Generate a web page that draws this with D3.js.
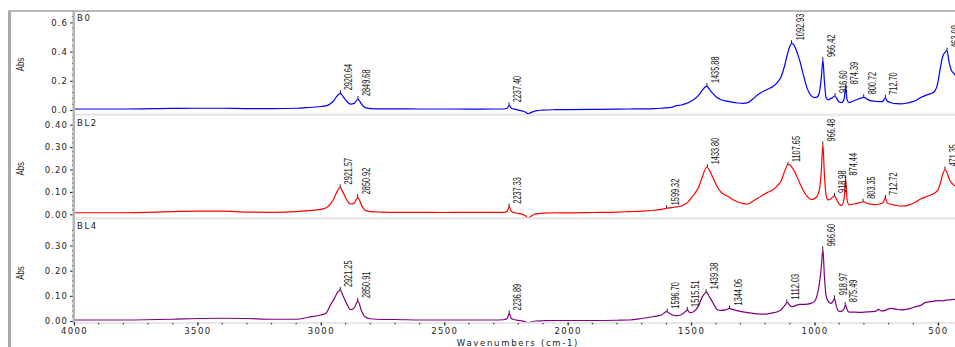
<!DOCTYPE html>
<html>
<head>
<meta charset="utf-8">
<script src="https://cdn.jsdelivr.net/npm/d3@7"></script>
<style>
  html, body { margin: 0; padding: 0; background: #fff; }
  svg { display: block; }
</style>
</head>
<body>
<svg id="chart" width="955" height="347"></svg>
<script>
// Wavenumber grid (cm-1), shared by the three spectra
const wavenumbers = [
  4000, 3800, 3600, 3500, 3400, 3300, 3200, 3100, 3050, 3000,
  2980, 2960, 2945, 2935, 2921, 2910, 2895, 2880, 2865, 2850,
  2835, 2820, 2800, 2750, 2700, 2600, 2500, 2400, 2300, 2260,
  2245, 2237, 2228, 2210, 2190, 2170, 2160, 2150, 2130, 2100,
  2050, 2000, 1900, 1800, 1750, 1700, 1650, 1620, 1600, 1580,
  1560, 1540, 1520, 1515, 1505, 1490, 1470, 1455, 1437, 1425,
  1410, 1395, 1380, 1360, 1345, 1330, 1310, 1290, 1270, 1250,
  1230, 1210, 1190, 1170, 1150, 1135, 1120, 1110, 1100, 1093,
  1085, 1075, 1060, 1045, 1030, 1015, 1000, 990, 980, 972,
  966, 960, 953, 945, 935, 925, 919, 912, 900, 890,
  880, 874, 868, 860, 845, 830, 815, 800, 785, 770,
  755, 740, 730, 722, 713, 705, 690, 670, 650, 630,
  610, 590, 570, 550, 530, 515, 500, 490, 480, 471,
  463, 455, 445, 435, 420, 400
];

// Absorbance of sample B0
const absB0 = [
  .007, .007, .011, .012, .012, .010, .010, .012, .017, .024,
  .028, .045, .070, .095, .114, .092, .060, .040, .045, .075,
  .040, .016, .010, .008, .008, .007, .007, .006, .007, .007,
  .012, .032, .012, .004, -.004, -.015, -.027, -.018, -.006, -.001,
  .002, .003, .004, .006, .007, .008, .010, .012, .015, .018,
  .030, .034, .045, .048, .056, .070, .100, .135, .164, .140,
  .110, .085, .072, .062, .057, .052, .048, .046, .050, .075,
  .105, .125, .142, .160, .190, .230, .310, .380, .435, .457,
  .450, .415, .340, .240, .150, .100, .085, .088, .120, .230,
  .342, .200, .085, .070, .078, .088, .096, .085, .055, .050,
  .075, .155, .070, .050, .060, .070, .080, .087, .072, .062,
  .060, .058, .057, .062, .084, .060, .050, .043, .042, .046,
  .054, .065, .085, .100, .112, .125, .190, .290, .370, .395,
  .406, .330, .270, .250, .220, .200
];

// Absorbance of sample BL2
const absBL2 = [
  .007, .007, .012, .014, .014, .010, .009, .012, .016, .022,
  .028, .048, .075, .100, .120, .098, .065, .046, .050, .076,
  .040, .018, .012, .010, .009, .009, .008, .009, .009, .009,
  .014, .034, .013, .006, .002, -.008, -.018, -.010, .002, .005,
  .007, .006, .008, .010, .012, .014, .018, .022, .027, .030,
  .033, .036, .048, .052, .065, .085, .120, .165, .210, .195,
  .160, .125, .100, .085, .076, .065, .055, .048, .046, .058,
  .072, .085, .098, .108, .128, .150, .195, .220, .222, .212,
  .200, .178, .140, .105, .080, .066, .070, .080, .110, .200,
  .312, .180, .085, .064, .068, .078, .082, .070, .045, .040,
  .070, .160, .065, .042, .045, .048, .052, .056, .048, .045,
  .043, .045, .048, .052, .073, .050, .045, .040, .037, .038,
  .045, .055, .068, .078, .086, .094, .108, .140, .180, .200,
  .185, .160, .140, .130, .120, .110
];

// Absorbance of sample BL4
const absBL4 = [
  .004, .004, .007, .010, .011, .010, .007, .007, .015, .024,
  .030, .065, .090, .110, .123, .100, .068, .045, .052, .079,
  .040, .016, .009, .006, .006, .004, .004, .004, .004, .005,
  .010, .030, .010, .004, .001, -.004, -.009, -.005, .000, .001,
  .002, .002, .002, .003, .004, .010, .018, .024, .037, .026,
  .021, .025, .040, .044, .033, .037, .060, .095, .114, .095,
  .070, .046, .042, .044, .050, .045, .040, .036, .033, .030,
  .028, .027, .028, .032, .037, .045, .062, .074, .062, .057,
  .058, .062, .066, .066, .067, .070, .078, .100, .150, .220,
  .285, .180, .100, .080, .070, .078, .090, .060, .038, .038,
  .050, .063, .045, .035, .035, .035, .034, .035, .036, .037,
  .038, .046, .040, .040, .042, .046, .050, .047, .044, .046,
  .050, .057, .062, .074, .077, .079, .081, .081, .080, .082,
  .083, .084, .085, .086, .086, .087
];

// Peak picks (wavenumber labels) for each sample
const peaksB0  = ["2920.64", "2849.68", "2237.40", "1435.88", "1092.93", "966.42", "916.60", "874.39", "800.72", "712.70", "463.09"];
const peaksBL2 = ["2921.57", "2850.92", "2237.33", "1599.32", "1433.80", "1107.65", "966.48", "918.98", "874.44", "803.35", "712.72", "471.35"];
const peaksBL4 = ["2921.25", "2850.91", "2236.89", "1596.70", "1515.51", "1439.38", "1344.06", "1112.03", "966.60", "918.97", "875.49"];

// Axis ticks
const xTicks = [4000, 3500, 3000, 2500, 2000, 1500, 1000, 500];
const yTicksB0  = [0.0, 0.2, 0.4, 0.6];
const yTicksBL2 = [0.00, 0.10, 0.20, 0.30, 0.40];
const yTicksBL4 = [0.00, 0.10, 0.20, 0.30];

const sampleNames = ["B0", "BL2", "BL4"];
const sampleColors = ["#0000ff", "#ff0000", "#800080"];

const svg = d3.select("#chart");
const W = 955, H = 347;

const x = d3.scaleLinear().domain([4000, 400]).range([74, 962.6]);

const panels = [
  { name: sampleNames[0], values: absB0,  peaks: peaksB0,  color: sampleColors[0],
    top: 11, bottom: 114, y: d3.scaleLinear().domain([0, 0.6]).range([110, 22.4]),
    ticks: yTicksB0, fmt: d3.format(".1f"), minor: 0.04, minorMax: 0.66 },
  { name: sampleNames[1], values: absBL2, peaks: peaksBL2, color: sampleColors[1],
    top: 116, bottom: 217.5, y: d3.scaleLinear().domain([0, 0.4]).range([214.3, 124.7]),
    ticks: yTicksBL2, fmt: d3.format(".2f"), minor: 0.02, minorMax: 0.42 },
  { name: sampleNames[2], values: absBL4, peaks: peaksBL4, color: sampleColors[2],
    top: 219.5, bottom: 322.5, y: d3.scaleLinear().domain([0, 0.3]).range([321, 245.5]),
    ticks: yTicksBL4, fmt: d3.format(".2f"), minor: 0.02, minorMax: 0.38 }
];

const tickFont = "DejaVu Sans, Verdana, sans-serif";
const narrowFont = "Liberation Sans, Arial, sans-serif";

// Outer frame: left bar and top rule
svg.append("rect").attr("x", 8).attr("y", 10).attr("width", 3).attr("height", H - 10).attr("fill", "#a9a9a9");
svg.append("rect").attr("x", 8).attr("y", 10).attr("width", W - 8).attr("height", 2).attr("fill", "#b8b8b8");

// Separators between the stacked panels
svg.append("rect").attr("x", 74).attr("y", 113.5).attr("width", W).attr("height", 2.5).attr("fill", "#e9e9e9");
svg.append("rect").attr("x", 74).attr("y", 217).attr("width", W).attr("height", 2.5).attr("fill", "#e9e9e9");

const defs = svg.append("defs");

panels.forEach((p, i) => {
  const data = wavenumbers.map((w, k) => [w, p.values[k]]);

  defs.append("clipPath").attr("id", "clip" + i)
    .append("rect").attr("x", 75).attr("y", p.top).attr("width", W).attr("height", p.bottom - p.top);

  const g = svg.append("g");

  // Spectrum trace
  const line = d3.line()
    .x(d => x(d[0]))
    .y(d => p.y(d[1]))
    .curve(d3.curveMonotoneX);

  g.append("path")
    .datum(data)
    .attr("clip-path", "url(#clip" + i + ")")
    .attr("fill", "none")
    .attr("stroke", p.color)
    .attr("stroke-width", 1.2)
    .attr("stroke-linejoin", "round")
    .attr("d", line);

  // Y axis ticks and labels
  const yAxis = d3.axisLeft(p.y).tickValues(p.ticks).tickFormat(p.fmt).tickSize(3).tickPadding(2);
  const ax = g.append("g").attr("transform", "translate(73,0)").call(yAxis);
  ax.select(".domain").remove();
  ax.selectAll(".tick line").attr("stroke", "#222");
  ax.selectAll(".tick text")
    .attr("font-family", tickFont)
    .attr("font-size", "8.5px")
    .attr("letter-spacing", "1.1px")
    .attr("fill", "#222");

  // Minor ticks on the y axis
  const minors = d3.range(0, p.minorMax, p.minor).filter(v => !p.ticks.some(t => Math.abs(t - v) < 1e-6));
  g.selectAll(".ym").data(minors).join("rect")
    .attr("x", 72).attr("y", v => p.y(v) - 0.5)
    .attr("width", 1.5).attr("height", 1.2)
    .attr("fill", "#333");

  // Sample name
  g.append("text")
    .attr("x", 77).attr("y", p.top + 9.5)
    .attr("font-family", tickFont)
    .attr("font-size", "8.5px")
    .attr("letter-spacing", "1.6px")
    .attr("fill", "#222")
    .text(p.name);

  // Y axis title
  const midY = (p.top + p.bottom) / 2 + 2;
  g.append("text")
    .attr("transform", `translate(24,${midY}) rotate(-90) scale(0.72,1)`)
    .attr("text-anchor", "middle")
    .attr("font-family", narrowFont)
    .attr("font-size", "11px")
    .attr("fill", "#222")
    .text("Abs");

  // Peak picks: tick at the peak top and a vertical label
  const peakTop = w => {
    let best = -Infinity;
    wavenumbers.forEach((gw, k) => {
      if (Math.abs(gw - w) <= 4.5 && p.values[k] > best) best = p.values[k];
    });
    return best;
  };
  p.peaks.forEach(lbl => {
    const w = +lbl;
    const px = x(w), py = p.y(peakTop(w));
    g.append("line")
      .attr("x1", px).attr("x2", px).attr("y1", py - 3).attr("y2", py)
      .attr("stroke", "#222").attr("stroke-width", 1);
    g.append("text")
      .attr("transform", `translate(${px + 12},${py - 3}) rotate(-90) scale(0.7,1)`)
      .attr("font-family", narrowFont)
      .attr("font-size", "10.5px")
      .attr("fill", "#111")
      .text(lbl);
  });
});

// Vertical axis rule shared by all panels
svg.append("rect").attr("x", 72.5).attr("y", 11).attr("width", 2.5).attr("height", 312).attr("fill", "#b4b4b4");

// X axis
svg.append("line").attr("x1", 74).attr("x2", W).attr("y1", 323).attr("y2", 323).attr("stroke", "#cfcfcf").attr("stroke-width", 1);
const xAxis = d3.axisBottom(x).tickValues(xTicks).tickFormat(d3.format("d")).tickSize(3).tickPadding(2);
const xa = svg.append("g").attr("transform", "translate(0,322.5)").call(xAxis);
xa.select(".domain").remove();
xa.selectAll(".tick line").attr("stroke", "#222").attr("stroke-width", 1.3);
xa.selectAll(".tick text")
  .attr("font-family", tickFont)
  .attr("font-size", "8.5px")
  .attr("letter-spacing", "1.4px")
  .attr("fill", "#222");

const xMinor = d3.range(400, 4000, 100).filter(v => v % 500 !== 0);
svg.selectAll(".xm").data(xMinor).join("rect")
  .attr("x", v => x(v) - 0.6).attr("y", 323)
  .attr("width", 1.3).attr("height", 1.3)
  .attr("fill", "#333");

svg.append("text")
  .attr("x", 518).attr("y", 345.5)
  .attr("text-anchor", "middle")
  .attr("font-family", tickFont)
  .attr("font-size", "8.5px")
  .attr("letter-spacing", "1.7px")
  .attr("fill", "#222")
  .text("Wavenumbers (cm-1)");
</script>
</body>
</html>
